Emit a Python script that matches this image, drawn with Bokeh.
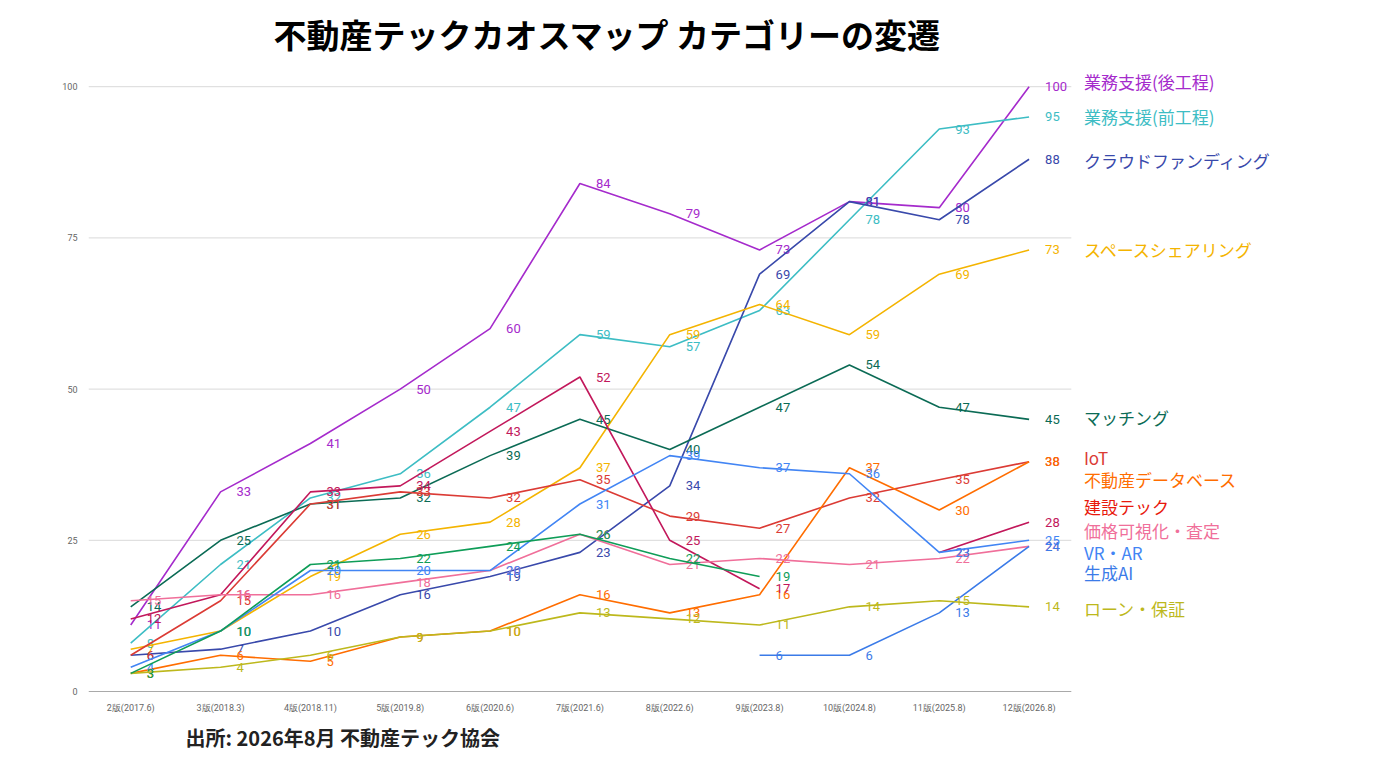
from bokeh.plotting import figure
from bokeh.models import Title, FixedTicker, ColumnDataSource
from bokeh.core.properties import value
from bokeh.embed import file_html
from bokeh.resources import INLINE

editions = ["2版(2017.6)", "3版(2018.3)", "4版(2018.11)", "5版(2019.8)", "6版(2020.6)",
            "7版(2021.6)", "8版(2022.6)", "9版(2023.8)", "10版(2024.8)", "11版(2025.8)", "12版(2026.8)"]
y_ticks = [0, 25, 50, 75, 100]
N = None
gyomu_ato = [11, 33, 41, 50, 60, 84, 79, 73, 81, 80, 100]
gyomu_mae = [8, 21, 32, 36, 47, 59, 57, 63, 78, 93, 95]
crowd = [6, 7, 10, 16, 19, 23, 34, 69, 81, 78, 88]
space = [7, 10, 19, 26, 28, 37, 59, 64, 59, 69, 73]
matching = [14, 25, 31, 32, 39, 45, 40, 47, 54, 47, 45]
iot = [6, 15, 31, 33, 32, 35, 29, 27, 32, 35, 38]
dbase = [3, 6, 5, 9, 10, 16, 13, 16, 37, 30, 38]
kensetsu = [12, 16, 33, 34, 43, 52, 25, 17, N, 23, 28]
kakaku = [15, 16, 16, 18, 20, 26, 21, 22, 21, 22, 24]
vrar = [4, 10, 20, 20, 20, 31, 39, 37, 36, 23, 25]
genai = [N, N, N, N, N, N, N, 6, 6, 13, 24]
loan = [3, 4, 6, 9, 10, 13, 12, 11, 14, 15, 14]
other = [3, 10, 21, 22, 24, 26, 22, 19, N, N, N]

series = [
    ("業務支援(後工程)", gyomu_ato, "#a52bcc", 100.9),
    ("業務支援(前工程)", gyomu_mae, "#3dbdc4", 95.0),
    ("クラウドファンディング", crowd, "#3949ab", 87.8),
    ("スペースシェアリング", space, "#f4b400", 73.1),
    ("マッチング", matching, "#0b6b55", 45.3),
    ("IoT", iot, "#db3b35", 38.7),
    ("不動産データベース", dbase, "#ff6d00", 35.0),
    ("建設テック", kensetsu, "#c2185b", 30.6),
    ("価格可視化・査定", kakaku, "#f06f9a", 26.7),
    ("VR・AR", vrar, "#4285f4", 22.9),
    ("生成AI", genai, "#3b7be8", 19.6),
    ("ローン・保証", loan, "#bdb81c", 13.7),
    ("", other, "#0f9d58", None),
]
legend_colors = {"建設テック": "#e8180c"}

x_lo, x_hi = -0.47, 10.47
p = figure(width=1360, height=756, output_backend="svg", toolbar_location=None,
           x_range=(x_lo, 13.6), y_range=(0, 104),
           min_border_left=88, min_border_right=8, min_border_top=62, min_border_bottom=14)
p.outline_line_color = None
p.xgrid.grid_line_color = None
p.ygrid.grid_line_color = None
p.yaxis.ticker = FixedTicker(ticks=y_ticks)
p.xaxis.ticker = FixedTicker(ticks=list(range(len(editions))))
p.xaxis.major_label_overrides = {i: e for i, e in enumerate(editions)}
for ax in (p.xaxis, p.yaxis):
    ax.major_label_text_font_size = "9px"
    ax.major_label_text_color = "#666666"
    ax.major_label_text_font = "Roboto"
    ax.major_tick_line_color = None
    ax.minor_tick_line_color = None
    ax.axis_line_color = None
p.segment(x0=[x_lo] * len(y_ticks), x1=[x_hi] * len(y_ticks), y0=y_ticks, y1=y_ticks,
          line_color=["#555555"] + ["#d9d9d9"] * (len(y_ticks) - 1), line_width=1)

for name, vals, col, ly in series:
    xs = list(range(len(vals)))
    ys = [float("nan") if v is None else v for v in vals]
    p.line(xs, ys, line_color=col, line_width=1.6)
    pts = [(i, v) for i, v in enumerate(vals) if v is not None]
    src = ColumnDataSource(dict(x=[a for a, b in pts], y=[b for a, b in pts],
                                t=[str(b) for a, b in pts]))
    p.text("x", "y", "t", source=src, text_color=col, text_font_size="13px",
           text_font=value("Roboto"),
           text_align="left", text_baseline="middle", x_offset=16)
    if ly is not None:
        p.text(x=[10.61], y=[ly], text=[name], text_color=legend_colors.get(name, col),
               text_font_size="17px", text_font=value("Noto Sans CJK JP"),
               text_baseline="middle")

p.add_layout(Title(text="不動産テックカオスマップ カテゴリーの変遷", align="left", offset=185,
                   text_font_size="33px", text_font_style="bold", text_color="#000000",
                   text_font="Noto Sans CJK JP"), "above")
p.add_layout(Title(text="出所: 2026年8月 不動産テック協会", align="left", offset=97,
                   text_font_size="20px", text_font_style="bold", text_color="#222222",
                   text_font="Noto Sans CJK JP"), "below")

open("out.html", "w").write(file_html(p, INLINE))
